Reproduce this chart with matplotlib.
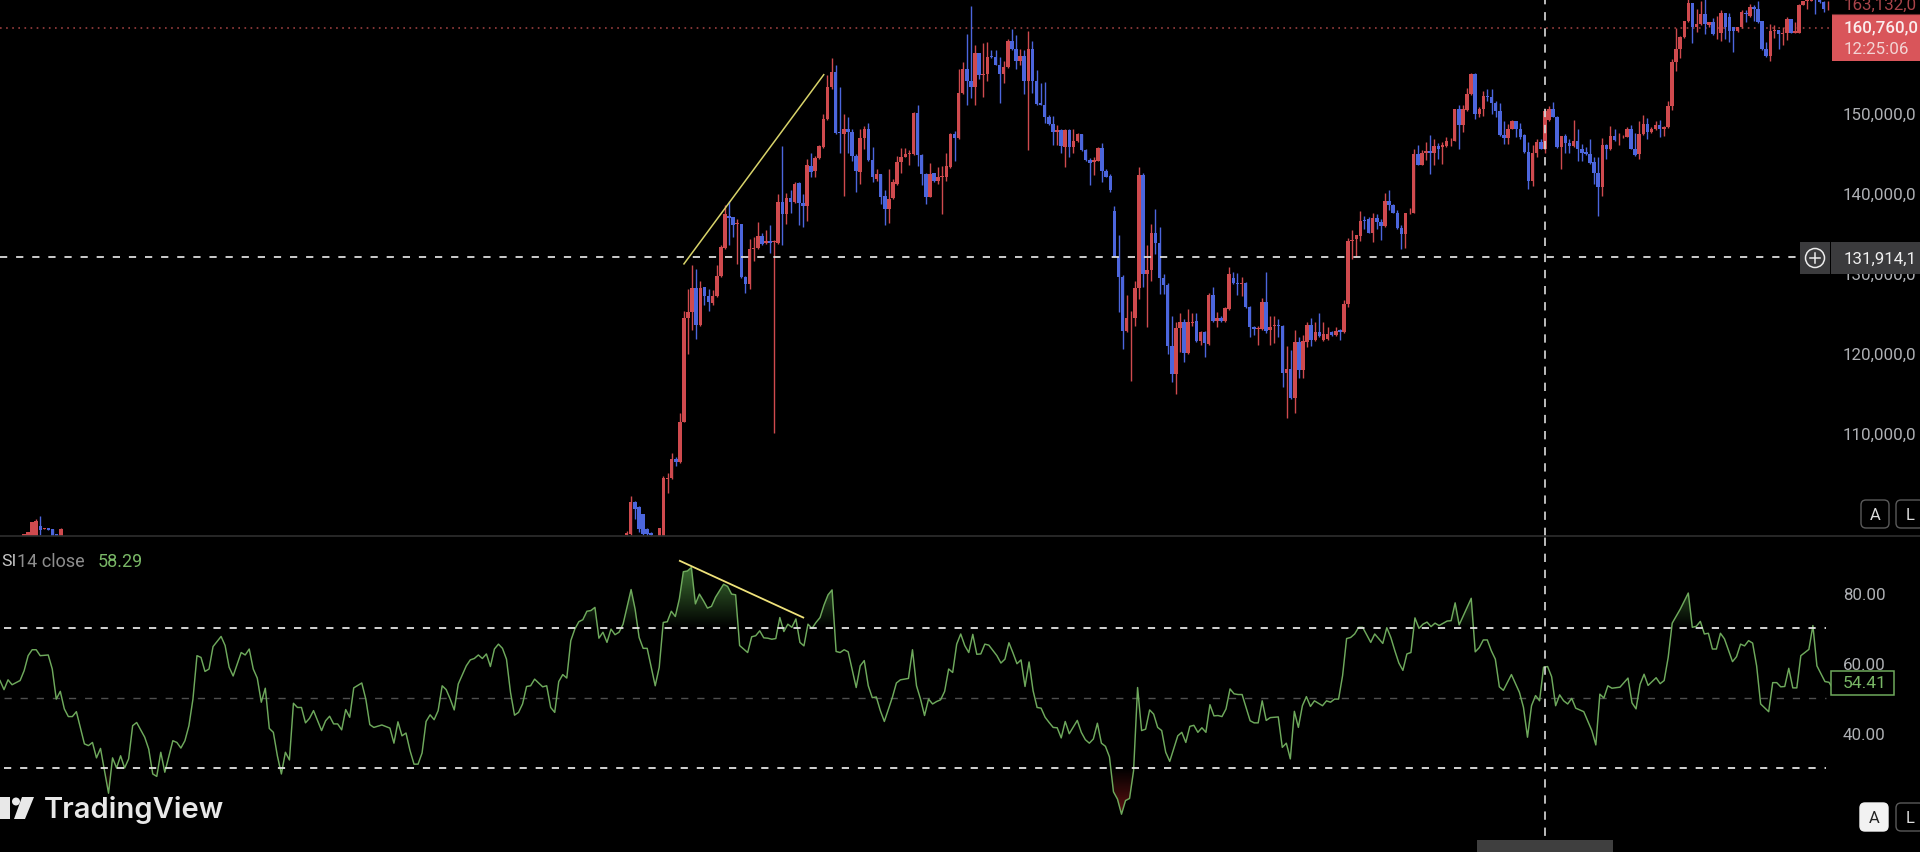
"""Candlestick chart with an RSI pane, dark TradingView look. Prices in millions."""
import numpy as np
import matplotlib
matplotlib.use("Agg")
import matplotlib.pyplot as plt
from matplotlib.patches import FancyBboxPatch, Rectangle, Circle, Polygon, PathPatch
from matplotlib.path import Path

plt.rcParams["font.family"] = ["Roboto", "DejaVu Sans"]
plt.rcParams["lines.scale_dashes"] = False

RED = "#cf4a4e"
BLUE = "#4c66dd"
GREEN = "#6ea95c"
GREY = "#aeb0b4"

# candles: a small cluster at the far left, then one bar per step from 156 to 449
candle_bars = list(range(9, 19)) + list(range(156, 450))
candle_dirs = (
    "RRRRBRBBBR"
    "RRBBBBBRRR" "RRBRRRRBRB" "BRRRRBBRBB" "RRRBRBRRBR" "BRBBRBRRRR"
    "RBBRBBBRRB" "BRBBRRRRRR" "RBBBRBRRRR" "BRRBBRBRRB" "BBRRBBRBRB"
    "BBBBBRBRBR" "RBBBRRBBBB" "BBRRRRBRRB" "BBBBRRBRRB" "RBRBRBRRBB"
    "RBBBRRBRRB" "BRBRBRRBRB" "RRBRBRRRRR" "BBRBBRBBBB" "RRRBRRBRBR"
    "RRRBRRRBRR" "BBBBBRRBBB" "BRRBRRBBRB" "BRBBBBBBRB" "RBRRRBBRRB"
    "RRBRRRRRRR" "BRRBRBRRBB" "BRRBRBBBBR" "RBRRBRRRRR" "BBBR"
)
highs = [
    97.3, 97.6, 98.9, 99.2, 99.6, 98.1, 98.1, 98.0, 97.4, 98.1,
    97.7, 102.1, 101.5, 100.8, 99.9, 98.1, 97.6, 96.5, 98.1, 104.6,
    105.0, 107.5, 107.0, 112.5, 125.2, 128.0, 131.0, 130.5, 129.0, 128.2,
    128.0, 127.8, 130.9, 133.4, 138.4, 138.9, 136.9, 136.7, 136.1, 129.6,
    134.2, 134.4, 136.3, 134.9, 135.3, 135.9, 134.1, 139.8, 145.8, 140.0,
    140.3, 141.3, 141.3, 139.8, 144.2, 145.0, 144.6, 145.9, 149.8, 154.7,
    156.8, 156.0, 153.2, 149.8, 149.4, 148.0, 144.8, 148.0, 148.3, 148.7,
    145.7, 142.9, 142.3, 140.3, 143.0, 141.7, 144.6, 145.6, 145.6, 145.3,
    150.1, 150.9, 144.8, 142.4, 143.7, 142.5, 143.2, 143.3, 144.9, 147.5,
    147.7, 155.5, 156.3, 159.8, 163.3, 158.5, 157.5, 158.7, 158.8, 157.8,
    157.8, 157.0, 156.4, 159.2, 160.5, 159.7, 158.0, 157.8, 160.2, 159.0,
    155.3, 153.7, 153.8, 149.7, 149.6, 148.5, 148.0, 148.0, 148.0, 147.9,
    147.5, 147.3, 145.4, 144.3, 144.4, 145.7, 146.2, 142.9, 142.3, 138.3,
    134.7, 129.7, 127.2, 125.2, 129.0, 143.2, 142.5, 133.4, 136.1, 138.0,
    135.7, 129.8, 128.7, 124.6, 123.8, 125.0, 124.2, 125.5, 125.0, 125.0,
    122.7, 122.7, 127.5, 128.2, 125.1, 124.6, 125.7, 130.7, 130.1, 130.0,
    129.5, 128.8, 125.9, 123.4, 123.4, 126.9, 130.1, 124.6, 124.6, 124.2,
    123.5, 120.9, 120.3, 122.9, 122.0, 122.2, 123.8, 124.4, 123.8, 125.0,
    123.8, 123.2, 122.7, 123.2, 123.0, 126.6, 134.3, 135.3, 134.7, 137.7,
    137.1, 136.9, 137.5, 137.3, 136.7, 139.9, 140.3, 138.6, 137.8, 135.9,
    137.5, 138.1, 145.4, 146.0, 145.3, 146.3, 147.2, 146.7, 146.2, 146.3,
    147.0, 146.8, 150.5, 151.0, 150.9, 153.1, 155.0, 155.0, 150.7, 152.7,
    153.0, 153.0, 151.5, 151.2, 149.0, 148.6, 149.1, 149.0, 148.7, 147.3,
    146.3, 146.0, 146.7, 146.7, 150.5, 150.8, 151.3, 149.6, 147.1, 147.3,
    146.7, 149.1, 147.9, 146.1, 145.7, 146.7, 144.4, 144.5, 146.8, 146.1,
    148.3, 148.0, 147.5, 147.2, 148.2, 148.4, 147.5, 148.9, 149.7, 149.3,
    148.2, 149.0, 149.1, 148.3, 151.4, 156.7, 160.6, 159.6, 161.5, 164.2,
    163.7, 163.0, 164.0, 164.3, 161.3, 161.8, 162.1, 162.8, 162.5, 162.5,
    160.7, 160.7, 162.8, 162.8, 163.6, 163.5, 164.0, 161.5, 158.8, 161.1,
    161.0, 160.3, 160.7, 161.9, 161.7, 161.3, 163.6, 164.0, 164.2, 164.5,
    165.0, 165.0, 164.0, 164.0,
]
body_tops = [
    97.3, 97.6, 98.9, 99.0, 98.4, 98.1, 98.1, 98.0, 97.4, 98.0,
    97.5, 101.4, 101.4, 100.7, 99.8, 98.0, 97.5, 96.0, 98.1, 104.3,
    104.3, 106.7, 106.7, 111.4, 124.4, 125.1, 128.1, 128.1, 128.1, 128.2,
    127.1, 127.1, 129.6, 133.2, 137.3, 137.1, 136.9, 136.2, 136.1, 129.5,
    133.0, 133.1, 134.6, 134.6, 133.9, 133.9, 133.9, 138.8, 138.8, 139.3,
    139.3, 141.1, 141.2, 138.7, 143.4, 143.3, 144.3, 145.8, 149.2, 153.2,
    155.1, 155.1, 147.6, 148.0, 148.0, 147.6, 144.6, 146.8, 148.0, 148.0,
    144.1, 142.3, 142.3, 139.6, 139.2, 141.3, 143.8, 144.5, 144.8, 145.0,
    150.0, 150.0, 144.7, 142.3, 142.3, 142.5, 142.0, 142.1, 143.3, 147.3,
    147.3, 152.4, 155.5, 155.5, 154.0, 157.5, 157.5, 154.8, 157.0, 157.1,
    157.0, 156.0, 155.7, 158.9, 158.9, 157.9, 157.1, 157.1, 158.0, 158.0,
    153.9, 151.2, 151.0, 149.4, 148.6, 147.8, 147.8, 147.8, 147.8, 146.4,
    147.3, 147.3, 145.3, 144.1, 144.1, 145.6, 145.6, 142.7, 142.1, 137.7,
    132.0, 129.5, 124.3, 124.4, 128.1, 142.2, 142.2, 130.4, 135.0, 135.0,
    133.7, 129.4, 128.5, 120.9, 123.1, 123.8, 123.8, 123.8, 123.9, 124.0,
    122.6, 122.6, 127.2, 127.2, 124.4, 124.3, 125.6, 129.8, 129.3, 128.7,
    128.7, 128.7, 125.7, 123.2, 123.1, 126.4, 126.4, 123.2, 123.5, 123.5,
    123.3, 118.0, 118.0, 121.4, 121.4, 121.5, 123.5, 123.5, 122.6, 122.6,
    122.4, 122.4, 122.6, 122.7, 122.9, 126.1, 133.9, 134.1, 134.7, 136.5,
    136.6, 136.7, 136.8, 136.8, 136.3, 138.9, 138.9, 138.5, 137.5, 135.6,
    137.4, 137.5, 144.8, 144.8, 144.9, 145.2, 145.2, 145.8, 145.8, 146.0,
    146.4, 146.5, 150.4, 150.4, 150.4, 152.3, 154.8, 154.8, 150.5, 152.1,
    152.1, 152.0, 151.2, 150.2, 147.2, 148.0, 148.9, 148.9, 148.0, 147.2,
    145.1, 145.0, 146.3, 146.3, 150.2, 150.5, 150.5, 149.5, 147.1, 147.1,
    146.2, 146.5, 146.5, 145.5, 145.1, 144.8, 143.8, 142.5, 146.0, 146.0,
    147.1, 147.1, 147.0, 147.0, 148.0, 148.0, 145.5, 147.3, 148.6, 148.6,
    147.9, 148.5, 148.4, 148.2, 150.8, 156.3, 158.0, 159.4, 161.5, 163.7,
    163.7, 161.1, 162.3, 162.3, 161.3, 161.3, 160.0, 162.5, 162.5, 161.9,
    160.7, 160.7, 162.6, 162.5, 163.2, 163.2, 163.0, 161.4, 157.9, 160.2,
    160.3, 160.3, 160.0, 161.7, 161.7, 160.2, 163.5, 163.9, 164.2, 164.3,
    165.0, 164.5, 163.8, 163.0,
]
body_bottoms = [
    97.0, 97.0, 97.0, 97.0, 97.8, 98.0, 97.9, 97.0, 97.0, 97.0,
    97.2, 97.3, 100.5, 98.0, 97.3, 97.3, 97.2, 95.5, 96.0, 96.5,
    104.2, 104.3, 106.3, 106.3, 111.4, 124.4, 125.1, 123.5, 123.5, 127.1,
    126.3, 126.2, 127.1, 129.6, 133.1, 136.8, 136.0, 136.1, 129.5, 128.6,
    128.6, 133.0, 133.1, 133.6, 133.7, 133.7, 133.8, 133.7, 137.3, 137.3,
    138.8, 138.8, 138.7, 138.3, 138.3, 142.6, 142.7, 144.3, 145.7, 149.2,
    153.2, 147.5, 147.5, 147.3, 147.6, 144.6, 142.7, 142.6, 146.8, 144.1,
    141.9, 141.7, 139.5, 137.9, 137.9, 139.3, 141.1, 143.8, 144.5, 144.8,
    144.8, 144.7, 142.3, 139.5, 139.5, 141.5, 141.4, 142.0, 142.0, 143.2,
    146.8, 146.8, 152.4, 154.0, 153.2, 153.2, 154.7, 154.7, 154.8, 156.9,
    156.0, 154.8, 154.8, 155.7, 157.9, 156.4, 156.4, 153.9, 153.9, 153.9,
    151.1, 151.0, 149.4, 148.6, 147.6, 147.6, 145.8, 145.7, 145.7, 145.7,
    146.4, 145.3, 144.1, 143.7, 143.8, 144.0, 142.7, 142.0, 140.3, 132.0,
    129.5, 122.7, 122.7, 124.3, 124.3, 128.1, 129.8, 129.8, 130.4, 133.7,
    129.4, 128.5, 120.9, 117.4, 117.4, 123.1, 120.0, 120.0, 123.7, 121.5,
    121.5, 121.2, 121.1, 124.0, 124.0, 124.0, 124.0, 125.5, 128.7, 128.6,
    128.6, 125.7, 123.2, 123.0, 123.0, 123.0, 122.7, 122.8, 123.4, 123.3,
    117.5, 117.5, 114.3, 114.3, 117.9, 117.9, 121.4, 121.6, 121.6, 122.1,
    121.6, 121.7, 122.2, 122.2, 122.6, 122.6, 126.1, 134.0, 134.2, 134.6,
    136.5, 135.0, 135.0, 136.3, 135.8, 135.8, 138.5, 137.5, 135.6, 134.8,
    134.8, 137.4, 137.5, 143.5, 143.5, 144.9, 144.9, 144.9, 145.5, 145.7,
    145.8, 146.4, 146.5, 148.5, 148.5, 150.3, 152.3, 149.8, 149.8, 150.5,
    152.0, 151.2, 150.2, 147.2, 146.8, 146.8, 148.0, 148.0, 147.0, 145.1,
    141.4, 141.4, 145.0, 145.5, 145.5, 149.1, 149.5, 145.7, 145.7, 146.2,
    145.8, 145.8, 145.5, 145.0, 144.8, 143.7, 142.5, 140.7, 140.7, 145.5,
    145.4, 146.6, 146.9, 146.9, 147.0, 145.5, 144.7, 144.8, 147.3, 147.6,
    147.6, 147.9, 147.9, 147.9, 148.2, 150.8, 156.3, 158.0, 159.4, 161.4,
    160.7, 160.7, 161.1, 161.1, 161.0, 159.8, 160.0, 160.0, 160.7, 160.2,
    160.2, 160.2, 160.7, 162.3, 162.1, 163.0, 161.3, 157.9, 157.1, 157.1,
    160.2, 159.8, 159.8, 159.9, 160.0, 160.0, 160.0, 163.5, 163.9, 164.0,
    164.5, 163.8, 163.0, 162.9,
]
lows = [
    97.0, 97.0, 97.0, 97.0, 97.2, 98.0, 97.9, 97.0, 97.0, 97.0,
    97.2, 97.2, 99.2, 97.6, 97.2, 97.1, 97.0, 95.0, 95.5, 96.0,
    102.5, 104.2, 105.8, 106.2, 111.4, 119.8, 122.8, 121.7, 123.4, 126.0,
    125.2, 126.0, 127.0, 129.5, 133.0, 133.4, 134.4, 131.1, 129.4, 127.5,
    128.0, 131.5, 133.0, 133.5, 133.6, 132.5, 110.0, 133.6, 133.4, 136.1,
    137.5, 138.7, 136.0, 135.7, 136.4, 141.9, 141.9, 144.2, 145.6, 149.1,
    153.0, 147.3, 145.0, 139.6, 145.0, 144.0, 140.1, 141.1, 145.5, 144.0,
    141.3, 141.4, 138.6, 136.0, 136.2, 139.2, 141.0, 142.5, 144.4, 143.5,
    144.7, 143.3, 140.9, 138.6, 139.4, 141.3, 141.1, 137.3, 141.5, 143.1,
    144.0, 146.7, 152.3, 150.9, 151.8, 151.0, 154.2, 151.9, 153.9, 156.8,
    156.0, 151.2, 153.7, 155.6, 157.8, 155.5, 155.9, 152.3, 145.3, 152.5,
    150.9, 151.0, 148.7, 148.5, 145.9, 145.9, 145.0, 143.2, 144.4, 145.0,
    146.3, 145.2, 144.0, 141.0, 142.2, 143.9, 141.3, 141.9, 140.1, 131.9,
    125.1, 120.5, 122.6, 116.5, 123.4, 126.7, 128.2, 123.2, 129.0, 132.3,
    127.3, 127.3, 119.9, 116.3, 114.8, 120.1, 118.9, 119.9, 123.4, 121.4,
    121.0, 119.5, 121.0, 123.9, 123.2, 123.9, 123.9, 125.4, 128.6, 127.2,
    127.1, 125.6, 122.0, 122.2, 121.0, 122.9, 122.5, 121.0, 121.2, 122.0,
    115.7, 111.8, 114.2, 112.5, 116.8, 116.9, 120.7, 120.9, 121.5, 122.0,
    121.5, 121.6, 122.1, 122.1, 121.6, 122.5, 125.7, 131.7, 131.9, 134.0,
    135.4, 134.9, 133.8, 135.5, 134.1, 135.7, 137.8, 137.4, 135.5, 133.0,
    133.1, 137.3, 137.4, 143.4, 143.4, 144.1, 142.3, 143.5, 144.2, 143.6,
    145.7, 145.8, 146.4, 145.5, 147.6, 150.2, 152.2, 149.2, 149.4, 149.6,
    151.5, 149.8, 149.4, 147.1, 146.1, 146.1, 147.9, 146.9, 146.7, 145.0,
    140.4, 140.8, 144.5, 145.4, 145.0, 149.0, 149.4, 145.6, 142.9, 145.0,
    145.0, 145.7, 143.9, 143.9, 144.7, 143.6, 141.1, 137.1, 139.6, 144.2,
    145.3, 146.5, 145.9, 146.8, 146.9, 145.4, 144.6, 144.2, 147.2, 146.7,
    147.5, 147.8, 147.0, 147.1, 148.1, 150.3, 155.2, 156.8, 159.3, 161.3,
    158.7, 160.1, 160.9, 159.8, 160.7, 159.7, 159.2, 159.0, 159.2, 158.8,
    157.6, 160.1, 160.6, 161.3, 161.9, 161.5, 161.2, 157.8, 157.0, 156.5,
    159.3, 157.9, 158.5, 159.1, 159.9, 159.9, 159.9, 163.4, 162.9, 164.0,
    162.3, 163.7, 162.6, 162.8,
]

price_ticks = [150, 140, 130, 120, 110]
price_labels = ["150,000,0", "140,000,0", "130,000,0", "120,000,0", "110,000,0"]
rsi_ticks = [80, 60, 40]
rsi_labels = ["80.00", "60.00", "40.00"]
rsi_levels = [70, 30]

crosshair_price = 131.914
last_price = 160.6

price_trend_bars = [170, 204.1]
price_trend_vals = [131.1, 154.75]
rsi_trend_bars = [169, 199.1]
rsi_trend_vals = [89.2, 73.0]
crosshair_bar = 380

# RSI turning points, bar number
rsi_bars = [
    0, 1, 2, 3, 5, 6, 7, 8, 9, 10, 12, 13, 14, 15, 16, 17, 18, 19, 21, 22, 23, 24, 25, 27, 28,
    29, 30, 31, 32, 33, 34, 36, 37, 38, 39, 40, 41, 43, 44, 45, 46, 47, 48, 49, 50, 51, 52, 53,
    55, 56, 57, 58, 60, 61, 62, 63, 64, 65, 66, 67, 68, 69, 70, 71, 72, 73, 74, 75, 76, 77, 78,
    80, 81, 82, 83, 84, 85, 86, 87, 88, 90, 91, 92, 93, 95, 97, 98, 99, 100, 101, 102, 103, 104,
    105, 106, 107, 108, 109, 110, 111, 112, 113, 114, 116, 117, 118, 119, 120, 121, 122, 123,
    124, 125, 126, 127, 128, 129, 130, 131, 132, 133, 135, 136, 137, 138, 139, 140, 141, 142,
    143, 144, 145, 146, 147, 148, 149, 150, 151, 152, 153, 154, 155, 157, 158, 159, 160, 161,
    163, 164, 165, 166, 167, 168, 169, 170, 171, 172, 173, 174, 175, 176, 177, 178, 180, 181,
    182, 183, 184, 186, 187, 188, 189, 190, 191, 192, 193, 194, 195, 196, 197, 198, 199, 200,
    201, 202, 203, 204, 205, 206, 207, 208, 209, 210, 211, 213, 214, 215, 216, 217, 218, 219,
    220, 222, 223, 224, 226, 227, 228, 229, 230, 231, 232, 233, 234, 235, 236, 237, 238, 239,
    240, 241, 242, 243, 244, 245, 246, 248, 249, 250, 251, 252, 253, 254, 255, 256, 257, 258,
    259, 260, 261, 262, 263, 264, 265, 266, 268, 269, 270, 271, 272, 273, 274, 275, 276, 277,
    278, 279, 280, 281, 282, 283, 284, 285, 286, 287, 288, 289, 290, 291, 293, 294, 295, 296,
    297, 298, 299, 300, 301, 302, 303, 304, 305, 306, 307, 308, 309, 311, 312, 313, 314, 315,
    316, 318, 319, 320, 321, 322, 323, 324, 325, 326, 327, 329, 330, 331, 332, 333, 334, 335,
    336, 337, 338, 339, 341, 342, 344, 345, 346, 347, 348, 349, 350, 351, 352, 353, 354, 355,
    356, 357, 358, 360, 361, 362, 363, 366, 367, 368, 369, 370, 371, 372, 373, 374, 376, 378,
    379, 380, 381, 382, 383, 384, 385, 386, 387, 388, 389, 390, 391, 392, 394, 396, 397, 398,
    399, 400, 401, 403, 405, 406, 407, 408, 409, 410, 412, 413, 414, 415, 416, 418, 420, 421,
    422, 423, 424, 425, 426, 427, 428, 429, 431, 432, 433, 434, 435, 436, 437, 438, 440, 441,
    442, 443, 444, 445, 446, 447, 448, 449, 450, 451, 452, 454, 455, 456,
]
rsi_values = [
    55.0, 52.4, 55.2, 53.8, 55.0, 57.8, 62.1, 63.8, 63.8, 62.1, 62.3, 58.3, 49.7, 51.9, 46.9, 44.7,
    44.7, 46.1, 36.9, 36.4, 37.3, 32.9, 35.6, 22.8, 32.9,
    30.0, 33.5, 30.0, 32.6, 42.1, 43.0, 38.8, 35.4, 28.3, 27.6, 34.5, 28.8, 37.8, 37.3, 35.7, 37.8,
    42.1, 49.7, 62.1, 61.6, 57.6, 58.3, 64.7,
    67.6, 65.0, 58.8, 56.3, 63.0, 62.3, 64.0, 58.3, 55.7, 48.8, 52.8, 41.3, 40.2, 33.5, 28.3, 34.5,
    32.3, 48.5, 47.3, 47.3, 42.9, 44.2, 46.4,
    40.7, 43.5, 44.8, 42.6, 42.6, 40.9, 46.7, 44.5, 52.9, 54.3, 49.7, 42.4, 41.6, 42.3, 41.4, 37.1,
    43.2, 39.2, 40.0, 35.0, 31.1, 31.1,
    34.3, 43.3, 45.2, 43.8, 46.4, 53.5, 52.4, 49.7, 46.6, 54.0, 59.2, 60.9, 61.3, 62.3, 61.3, 62.6,
    59.0, 64.0,
    65.4, 64.2, 61.1, 51.6, 45.1, 45.9, 48.3, 53.3, 53.5, 55.4, 53.2, 53.5, 47.3, 45.9, 54.7, 56.7,
    55.7, 66.4,
    69.7, 71.8, 72.4, 74.8, 75.0, 75.9, 67.1, 68.8, 65.9, 69.7, 68.1, 68.8, 71.1, 81.0, 75.4, 67.3,
    64.2, 64.2,
    53.5, 58.8, 71.6, 71.8, 74.8, 73.3, 78.3, 86.1, 86.3, 87.3, 76.9, 79.7, 77.8, 75.7, 76.2, 78.8,
    82.5, 81.9,
    79.7, 79.5, 65.0, 63.0, 67.5, 67.8, 69.2, 67.2, 67.1, 66.8, 67.0, 73.0, 69.0, 71.1, 70.2, 72.6,
    65.9, 64.9,
    71.1, 69.9, 71.6, 73.0, 76.6, 79.5, 80.9, 63.3, 63.0, 63.8, 63.2, 53.0, 59.2, 60.7, 53.5, 50.1,
    50.3, 46.4,
    43.3, 50.2, 54.3, 55.2, 55.6, 63.8, 53.5, 49.7, 45.0, 49.7, 48.3, 49.0, 49.5, 51.9, 58.3, 57.3,
    65.4, 68.3,
    65.0, 63.0, 68.2, 62.5, 62.6, 65.4, 65.1, 62.1, 60.0, 61.1, 65.8, 62.9, 59.8, 60.9, 53.3, 60.3,
    52.1, 47.3,
    47.1, 44.5, 43.0, 41.6, 41.5, 38.6, 43.3, 39.8, 43.6, 40.2, 38.1, 37.1, 38.3, 42.8, 37.1, 36.2,
    33.2, 23.2,
    21.1, 16.8, 20.7, 21.3, 29.2, 53.0, 40.7, 41.1, 46.6, 45.4, 41.6, 40.7, 34.5, 31.9, 39.2, 40.2,
    37.3, 41.9,
    42.2, 40.2, 41.5, 40.2, 48.1, 44.9, 45.0, 44.7, 46.9, 52.6, 51.2, 51.0, 51.0, 43.5, 42.9, 42.9,
    49.2, 43.6,
    44.4, 44.6, 35.9, 37.1, 32.6, 46.2, 41.6, 47.8, 50.4, 47.6, 49.2, 47.8, 49.2, 48.8, 49.7, 49.7,
    56.4, 67.0,
    67.3, 68.3, 70.2, 70.2, 65.9, 68.3, 65.6, 70.1, 67.3, 63.5, 60.0, 57.9, 62.6, 63.0, 72.9, 69.9,
    71.1, 71.7,
    70.4, 71.4, 70.7, 72.0, 72.1, 77.2, 70.9, 78.5, 63.2, 64.4, 66.6, 66.6, 63.5, 61.1, 53.2, 52.2,
    56.7, 51.6,
    47.3, 38.8, 47.8, 50.7, 49.2, 58.8, 59.0, 56.1, 47.8, 50.9, 49.2, 48.3, 49.9, 47.1, 46.1, 40.7,
    36.6, 51.1,
    50.0, 53.5, 52.8, 53.1, 55.7, 48.6, 46.9, 53.9, 56.8, 53.6, 55.8, 54.1, 55.0, 61.6, 71.4, 75.4,
    80.0, 70.2,
    70.5, 71.9, 68.3, 68.5, 64.0, 64.0, 68.5, 66.9, 60.4, 61.8, 65.4, 64.9, 66.4, 65.7, 59.2, 48.3,
    46.1, 54.4,
    54.4, 53.2, 53.3, 58.5, 52.9, 52.9, 62.1, 63.0, 63.9, 70.7, 59.2, 54.7, 54.5, 52.6,
]


def gradient_fill(ax, x, y, base, color, top_alpha, where):
    """Fill between the line and a level, fading out towards the level."""
    poly = ax.fill_between(x, y, base, where=where, interpolate=True, lw=0, alpha=0)
    clip = PathPatch(Path.make_compound_path(*poly.get_paths()), transform=ax.transData)
    lo, hi = (base, y.max()) if y.max() > base and where[np.argmax(y)] else (y.min(), base)
    fade = np.linspace(0, 1, 128)[:, None]
    if hi == base:
        fade = fade[::-1]
    rgba = np.ones((128, 1, 4))
    rgba[..., :3] = matplotlib.colors.to_rgb(color)
    rgba[..., 3] = fade * top_alpha
    im = ax.imshow(rgba, extent=[x.min(), x.max(), lo, hi], origin="lower",
                   aspect="auto", zorder=1)
    im.set_clip_path(clip)


fig = plt.figure(figsize=(19.2, 8.53), dpi=100, facecolor="black")
split = 1 - 537 / 853
ax_p = fig.add_axes([0, split, 1, 1 - split], facecolor="black")
ax_r = fig.add_axes([0, 0, 1, split], facecolor="black")

# bar n sits at pixel 4.1 * n - 13
xlim = (3.17, 471.5)

bars = np.array(candle_bars)
tops = np.array(body_tops)
bottoms = np.array(body_bottoms)
colors = [RED if d == "R" else BLUE for d in candle_dirs]
ax_p.vlines(bars, lows, highs, colors=colors, lw=1.0, zorder=2)
ax_p.bar(bars, tops - bottoms, bottom=bottoms, width=0.86, color=colors, lw=0, zorder=3)

ax_p.axhline(last_price, color="#a84444", lw=1.1, ls=(0, (1.2, 3.2)), zorder=1)
ax_p.axhline(crosshair_price, color="#dcdcdc", lw=1.3, ls=(0, (5.2, 6.4)), zorder=5)
ax_p.plot(price_trend_bars, price_trend_vals, color="#d8d36a", lw=1.1, zorder=6)
ax_p.axvline(crosshair_bar, color="#dcdcdc", lw=1.2, ls=(0, (6, 5.6)), zorder=5)
ax_p.set_xlim(xlim)
ax_p.set_ylim(97.09, 164.21)

rsi_x = np.array(rsi_bars) * 0.9805 + 3.17  # line was read at 4.02 px per step
rsi_y = np.array(rsi_values, dtype=float)
# finer grid only so the fills stop right at the level crossings
fx = np.linspace(rsi_x[0], rsi_x[-1], 4000)
fy = np.interp(fx, rsi_x, rsi_y)
gradient_fill(ax_r, fx, fy, 70, "#5fb04f", 0.62, fy > 70)
gradient_fill(ax_r, fx, fy, 30, "#b02020", 0.55, fy < 30)
ax_r.plot(rsi_x, rsi_y, color=GREEN, lw=1.05, zorder=4, solid_joinstyle="round")
ax_r.plot(rsi_trend_bars, rsi_trend_vals, color="#efe27a", lw=1.3, zorder=6)
for lev in rsi_levels:
    ax_r.plot([4.2, 448.6], [lev, lev], color="#e2e2e2", lw=1.3, ls=(0, (5.2, 6.4)), zorder=5)
ax_r.plot([4.2, 448.6], [50, 50], color="#4f4f4f", lw=1.0, ls=(0, (5.2, 6.4)), zorder=3)
ax_r.axvline(crosshair_bar, color="#dcdcdc", lw=1.2, ls=(0, (6, 5.6)), zorder=5)
ax_r.set_xlim(xlim)
ax_r.set_ylim(6.0, 96.3)

for ax, ticks, labels in [(ax_p, price_ticks, price_labels), (ax_r, rsi_ticks, rsi_labels)]:
    ax.yaxis.tick_right()
    ax.set_yticks(ticks, labels)
    ax.tick_params(axis="y", length=0, pad=-55.5, labelsize=12.2, labelcolor=GREY)
    ax.set_xticks([])
    for side in ax.spines.values():
        side.set_visible(False)

# everything below is interface furniture, placed in screen pixels
ui = fig.add_axes([0, 0, 1, 1], facecolor="none", zorder=10)
ui.set_xlim(0, 1920)
ui.set_ylim(853, 0)
ui.axis("off")

ui.plot([0, 1920], [537, 537], color="#2e2e2e", lw=1.2)
ui.text(1844, 5, "163,132,0", color="#a8444a", fontsize=12.2, va="center")
ui.plot([1832, 1920], [14.5, 14.5], color="#6b2a2d", lw=0.8)
ui.add_patch(Rectangle((1832, 15), 90, 47, color="#d9555a", lw=0))
ui.text(1844, 28, "160,760,0", color="#fbeeee", fontsize=12.2, va="center", fontweight="medium")
ui.text(1844, 49, "12:25:06", color="#f3d4d4", fontsize=12.2, va="center")

ui.add_patch(Rectangle((1831, 243), 92, 32, color="#3b3b3d", lw=0))
ui.add_patch(Rectangle((1800, 243), 30, 32, color="#3b3b3d", lw=0))
ui.add_patch(Circle((1815, 259), 9.5, fill=False, ec="#ececec", lw=1.1))
ui.plot([1810, 1820], [259, 259], color="#ececec", lw=1.1)
ui.plot([1815, 1815], [254, 264], color="#ececec", lw=1.1)
ui.text(1844, 259, "131,914,1", color="#efefef", fontsize=12.2, va="center")

for cx, cy, lab, filled in [(1875, 515, "A", False), (1910, 515, "L", False),
                            (1874, 818, "A", True), (1910, 818, "L", False)]:
    ui.add_patch(FancyBboxPatch((cx - 11, cy - 11), 22, 22, boxstyle="round,pad=3,rounding_size=5",
                                fc="#f2f2f2" if filled else "black",
                                ec="#f2f2f2" if filled else "#5a5a5a", lw=1))
    ui.text(cx, cy + 0.5, lab, color="#222222" if filled else "#dedede", fontsize=12,
            ha="center", va="center")

ui.add_patch(Rectangle((1831, 672), 63, 24, fc="black", ec=GREEN, lw=1.1))
ui.text(1843, 684, "54.41", color="#79b766", fontsize=12.6, va="center")

ui.text(1, 562, "SI", color="#c9c9c9", fontsize=12.6, va="center")
ui.text(17, 562, "14 close", color="#8e8e8e", fontsize=13, va="center")
ui.text(98, 562, "58.29", color="#79b766", fontsize=13, va="center")

ui.add_patch(Rectangle((-2, 798), 12, 22, color="#e8e8e8", lw=0))
ui.add_patch(Circle((16, 802.5), 4, color="#e8e8e8", lw=0))
ui.add_patch(Polygon([(22, 798), (34, 798), (25, 820), (14, 820)], color="#e8e8e8", lw=0))
ui.text(44, 810, "TradingView", color="#e8e8e8", fontsize=21, va="center", fontweight="semibold",
        family=["Inter", "DejaVu Sans"])

ui.add_patch(Rectangle((1477, 841), 136, 14, color="#3f3f3f", lw=0))

fig.savefig("out.png", dpi=100, facecolor="black")
